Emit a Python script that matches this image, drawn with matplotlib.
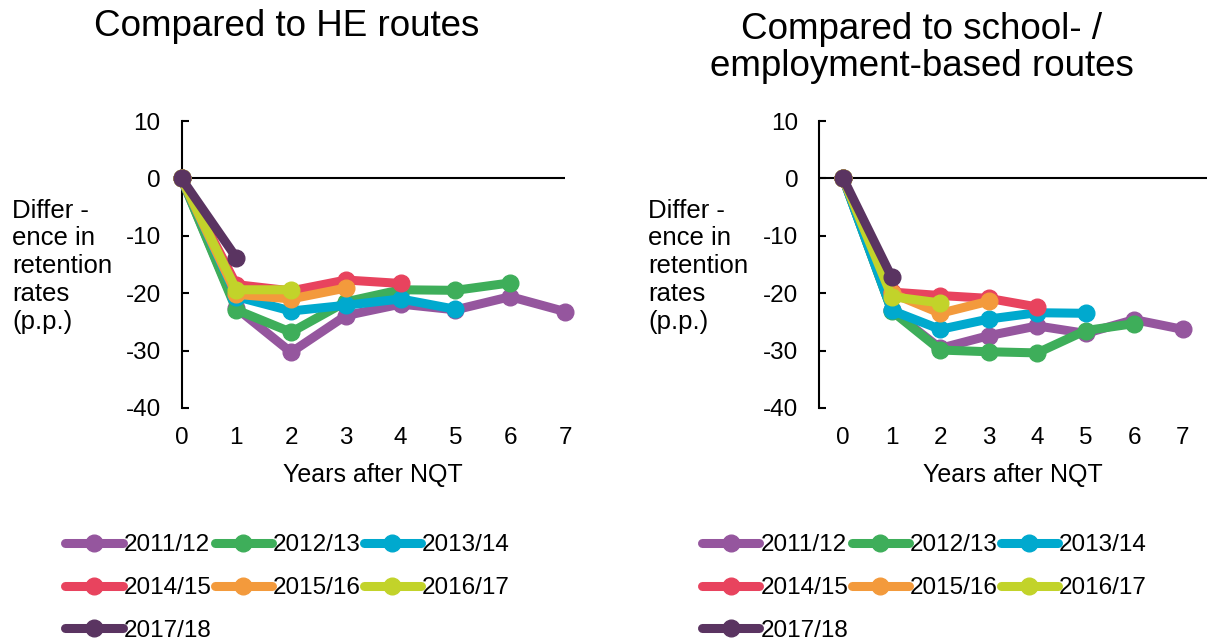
import matplotlib.pyplot as plt

plt.rcParams['font.family'] = ['Liberation Sans', 'DejaVu Sans']
plt.rcParams['axes.unicode_minus'] = False

cohorts = ['2011/12', '2012/13', '2013/14', '2014/15', '2015/16', '2016/17', '2017/18']
colors = ['#95569E', '#3EAE5A', '#00A9CE', '#E8435E', '#F39A3C', '#C2D32A', '#5A3461']

# difference compared to HE routes (p.p.), by years after NQT
he_diff = [
    [0, -22.6, -30.3, -23.9, -21.9, -22.9, -20.6, -23.2],
    [0, -22.9, -26.8, -21.5, -19.4, -19.5, -18.2],
    [0, -20.6, -23.1, -22.1, -21.0, -22.8],
    [0, -18.5, -19.6, -17.7, -18.3],
    [0, -20.2, -21.0, -19.1],
    [0, -19.4, -19.4],
    [0, -13.8],
]

# difference compared to school- / employment-based routes (p.p.)
seb_diff = [
    [0, -23.0, -29.6, -27.4, -25.7, -27.0, -24.6, -26.3],
    [0, -23.1, -29.9, -30.2, -30.4, -26.5, -25.3],
    [0, -23.0, -26.3, -24.5, -23.4, -23.5],
    [0, -19.8, -20.4, -20.9, -22.4],
    [0, -20.0, -23.5, -21.4],
    [0, -20.6, -21.7],
    [0, -17.2],
]

years = list(range(8))
year_labels = [str(y) for y in years]
titles = ['Compared to HE routes', 'Compared to school- /\nemployment-based routes']
ylabel = 'Differ -\nence in\nretention\nrates\n(p.p.)'

fig = plt.figure(figsize=(12.11, 6.4), dpi=100)
ax1 = fig.add_axes([0.1499, 0.3625, 0.3167, 0.4484])
ax2 = fig.add_axes([0.6763, 0.3625, 0.3204, 0.4484])

panels = [(ax1, he_diff, (0, 7)), (ax2, seb_diff, (-0.5, 7.5))]
for ax, data, xlim in panels:
    ax.axhline(0, color='black', lw=1.5, zorder=1)
    for vals, lab, col in zip(data, cohorts, colors):
        ax.plot(years[:len(vals)], vals, color=col, lw=6.5, marker='o', ms=12,
                solid_capstyle='round', label=lab, clip_on=False, zorder=3)
    ax.set_xlim(*xlim)
    ax.set_ylim(-40, 10)
    ax.set_yticks([-40, -30, -20, -10, 0, 10])
    ax.set_xticks(years)
    ax.set_xticklabels(year_labels)
    for s in ['top', 'right', 'bottom']:
        ax.spines[s].set_visible(False)
    ax.spines['left'].set_linewidth(1.5)
    ax.tick_params(axis='y', direction='in', length=5, width=1.5, pad=15, labelsize=17.5)
    ax.tick_params(axis='x', length=0, pad=14, labelsize=17.5)
    ax.set_xlabel('Years after NQT', fontsize=18, labelpad=10)

fig.text(287 / 1211, 1 - 27 / 640, titles[0], fontsize=26.5, ha='center', va='center')
fig.text(922 / 1211, 1 - 48 / 640, titles[1], fontsize=26.5, ha='center', va='center',
         linespacing=1.05)

fig.text(0.010, 0.584, ylabel, fontsize=18.5, ha='left', va='center', linespacing=1.2)
fig.text(0.535, 0.584, ylabel, fontsize=18.5, ha='left', va='center', linespacing=1.2)

order = [0, 3, 6, 1, 4, 2, 5]  # row-wise fill for 3 columns
for ax, x0 in [(ax1, 0.054), (ax2, 0.580)]:
    h, l = ax.get_legend_handles_labels()
    fig.legend([h[i] for i in order], [l[i] for i in order], loc='upper left',
               bbox_to_anchor=(x0, 0.165), ncol=3, frameon=False, fontsize=17.5,
               handlelength=2.35, handletextpad=0.05, columnspacing=0.12,
               labelspacing=0.85, borderpad=0, borderaxespad=0,
               bbox_transform=fig.transFigure)

fig.savefig('out.png', dpi=100)
